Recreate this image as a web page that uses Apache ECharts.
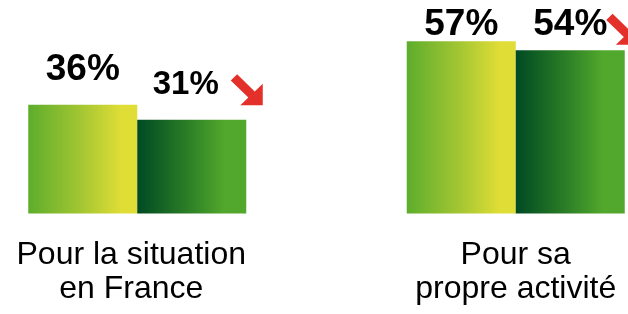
<!DOCTYPE html>
<html>
<head>
<meta charset="utf-8">
<script src="https://cdn.jsdelivr.net/npm/echarts@6/dist/echarts.min.js"></script>
<style>
  html, body { margin: 0; padding: 0; background: #fff; }
  #chart { width: 628px; height: 314px; }
</style>
</head>
<body>
<div id="chart"></div>
<script>
const categories = ['Pour la situation\nen France', 'Pour sa\npropre activité']
const previousValues = [36, 57]
const currentValues = [31, 54]

const font = "'Liberation Sans', Arial, sans-serif"
const arrowPath = 'path://M20 0 L75 55 L100 30 L100 100 L30 100 L55 75 L0 20 Z'

// hand-placed labels, like the original slide
const prevLabelGap = [16, -2]
const currLabelGap = [18, 7]
const currLabelShift = [-6, 0]
const currLabelSize = [33, 37]
const arrowOffsets = [[55, -30], [52, -21]]
const categoryPadding = [[0, 12, 0, 0], [0, 0, 0, 0]]

const chart = echarts.init(document.getElementById('chart'))

const option = {
  animation: false,
  backgroundColor: '#fff',
  grid: {
    left: -52,
    width: 757,
    top: 2,
    bottom: 100.5,
    containLabel: false,
    outerBoundsMode: 'none'
  },
  xAxis: {
    type: 'category',
    data: categories.map((c, i) => ({
      value: c,
      textStyle: { padding: categoryPadding[i] }
    })),
    axisLine: { show: false },
    axisTick: { show: false },
    axisLabel: {
      color: '#000',
      fontFamily: font,
      fontSize: 32,
      lineHeight: 34,
      margin: 25
    }
  },
  yAxis: {
    type: 'value',
    min: 0,
    max: 70,
    show: false,
    splitLine: { show: false }
  },
  series: [
    {
      type: 'bar',
      barWidth: 109,
      barGap: '0%',
      data: previousValues.map((v, i) => ({
        value: v,
        label: { distance: prevLabelGap[i] }
      })),
      itemStyle: {
        color: new echarts.graphic.LinearGradient(0, 0, 1, 0, [
          { offset: 0, color: '#5dad2c' },
          { offset: 0.5, color: '#a6c733' },
          { offset: 0.85, color: '#dfdd36' },
          { offset: 1, color: '#dfdd36' }
        ])
      },
      label: {
        show: true,
        position: 'top',
        formatter: '{c}%',
        color: '#000',
        fontFamily: font,
        fontWeight: 'bold',
        fontSize: 37
      }
    },
    {
      type: 'bar',
      barWidth: 109,
      data: currentValues.map((v, i) => ({
        value: v,
        label: {
          distance: currLabelGap[i],
          offset: [currLabelShift[i], 0],
          fontSize: currLabelSize[i]
        }
      })),
      itemStyle: {
        color: new echarts.graphic.LinearGradient(0, 0, 1, 0, [
          { offset: 0, color: '#004a23' },
          { offset: 0.45, color: '#2a7d26' },
          { offset: 0.8, color: '#52a82c' },
          { offset: 1, color: '#52a82c' }
        ])
      },
      label: {
        show: true,
        position: 'top',
        formatter: '{c}%',
        color: '#000',
        fontFamily: font,
        fontWeight: 'bold',
        fontSize: 37
      },
      markPoint: {
        symbol: arrowPath,
        symbolSize: [32, 31],
        itemStyle: { color: '#e3302b' },
        label: { show: false },
        data: currentValues.map((v, i) => ({
          coord: [i, v],
          symbolOffset: arrowOffsets[i]
        }))
      }
    }
  ]
}

chart.setOption(option)
</script>
</body>
</html>
